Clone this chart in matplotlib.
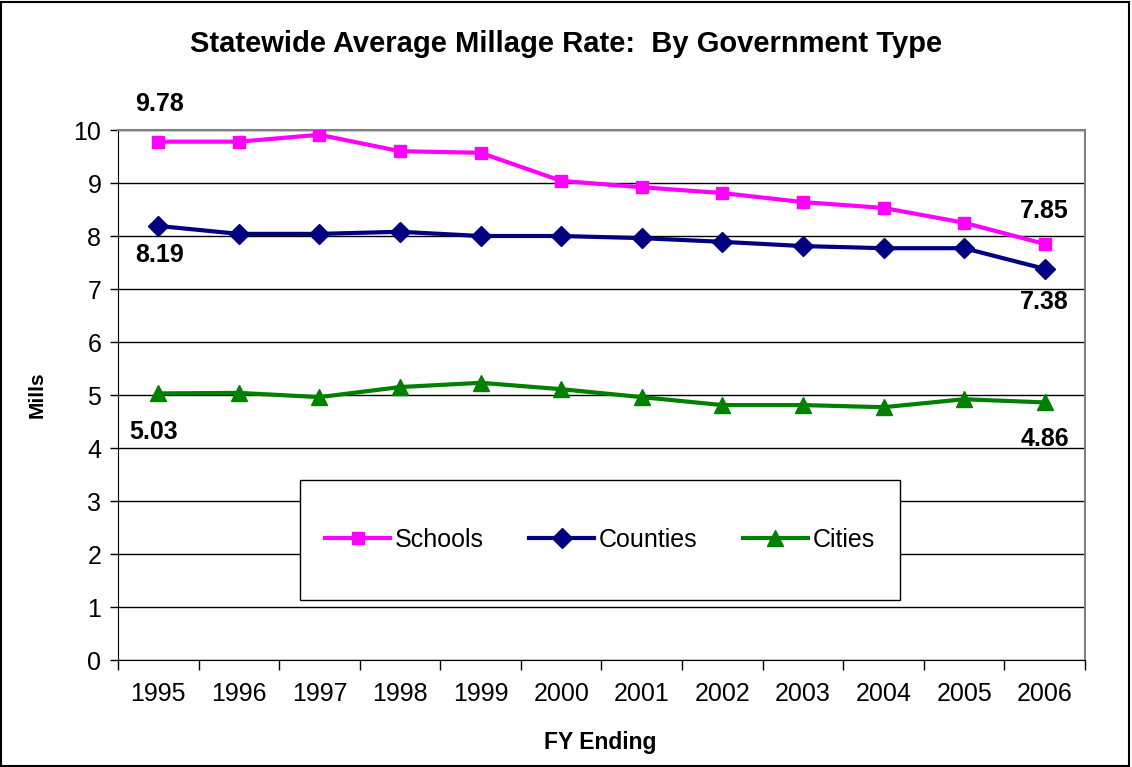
import matplotlib
matplotlib.use("Agg")
import matplotlib.pyplot as plt
from matplotlib.patches import Rectangle
import numpy as np

plt.rcParams['font.family'] = ['Liberation Sans', 'DejaVu Sans']

# values
years = ['1995', '1996', '1997', '1998', '1999', '2000',
         '2001', '2002', '2003', '2004', '2005', '2006']
schools = [9.78, 9.78, 9.91, 9.60, 9.57, 9.04, 8.92, 8.81, 8.64, 8.53, 8.25, 7.85]
counties = [8.19, 8.04, 8.04, 8.08, 8.00, 8.00, 7.96, 7.89, 7.81, 7.77, 7.77, 7.38]
cities = [5.03, 5.04, 4.96, 5.15, 5.23, 5.11, 4.96, 4.81, 4.81, 4.77, 4.92, 4.86]

x = np.arange(len(years))

fig = plt.figure(figsize=(11.32, 7.67), dpi=100)
ax = fig.add_axes([0.1042, 0.1395, 0.8543, 0.691])

ax.plot(x, schools, color='#FF00FF', lw=3, marker='s', ms=8.5, label='Schools', zorder=3)
ax.plot(x, counties, color='#000080', lw=3, marker='D', ms=10, label='Counties', zorder=3)
ax.plot(x, cities, color='#008000', lw=3, marker='^', ms=12, label='Cities', zorder=3)

ax.set_xlim(-0.5, len(years) - 0.5)
ax.set_ylim(0, 10)
ax.set_yticks(range(0, 11))
ax.tick_params(axis='y', labelsize=18, length=6, width=1, direction='out', pad=6)

# category ticks between years, labels at centres
ax.set_xticks(np.arange(-0.5, len(years), 1))
ax.set_xticklabels([])
ax.set_xticks(x, minor=True)
ax.set_xticklabels(years, minor=True)
ax.tick_params(axis='x', which='major', length=7, width=1, direction='out')
ax.tick_params(axis='x', which='minor', length=0, labelsize=18, pad=16)

ax.yaxis.grid(True, color='black', lw=1)
ax.set_axisbelow(True)
for s in ['top', 'right']:
    ax.spines[s].set_color('#808080')
    ax.spines[s].set_linewidth(1.5)
for s in ['left', 'bottom']:
    ax.spines[s].set_color('black')

fig.text(0.5, 1 - 44 / 767, 'Statewide Average Millage Rate:  By Government Type',
         fontsize=21, fontweight='bold', ha='center', va='center')
fig.text(600 / 1132, 1 - 742 / 767, 'FY Ending', fontsize=16.5, fontweight='bold',
         ha='center', va='center')
fig.text(37 / 1132, 1 - 395 / 767, 'Mills', fontsize=15, fontweight='bold',
         ha='center', va='center', rotation=90)

# end-point labels
ann = dict(fontsize=18, fontweight='bold', ha='center', va='center', textcoords='offset points')
ax.annotate(f'{schools[0]:.2f}', (x[0], schools[0]), xytext=(1, 27), **ann)
ax.annotate(f'{counties[0]:.2f}', (x[0], counties[0]), xytext=(1, -21), **ann)
ax.annotate(f'{cities[0]:.2f}', (x[0], cities[0]), xytext=(-3, -28), **ann)
ax.annotate(f'{schools[-1]:.2f}', (x[-1], schools[-1]), xytext=(0, 24), **ann)
ax.annotate(f'{counties[-1]:.2f}', (x[-1], counties[-1]), xytext=(0, -24), **ann)
ax.annotate(f'{cities[-1]:.2f}', (x[-1], cities[-1]), xytext=(0, -26), **ann)

# legend box drawn separately so it can be wider/taller than its entries
ax.add_patch(Rectangle((0.188, 0.113), 0.621, 0.227, transform=ax.transAxes,
                       facecolor='white', edgecolor='black', lw=1, zorder=4))
leg = ax.legend(loc='center', bbox_to_anchor=(0.4985, 0.2265), ncol=3,
                fontsize=18, frameon=False, handlelength=2.6, handletextpad=0.2,
                columnspacing=1.8)
leg.set_zorder(5)

fig.patches.append(Rectangle((0.001, 0.001), 0.996, 0.997, transform=fig.transFigure,
                             fill=False, edgecolor='black', lw=1.5))

fig.savefig('out.png', dpi=100)
